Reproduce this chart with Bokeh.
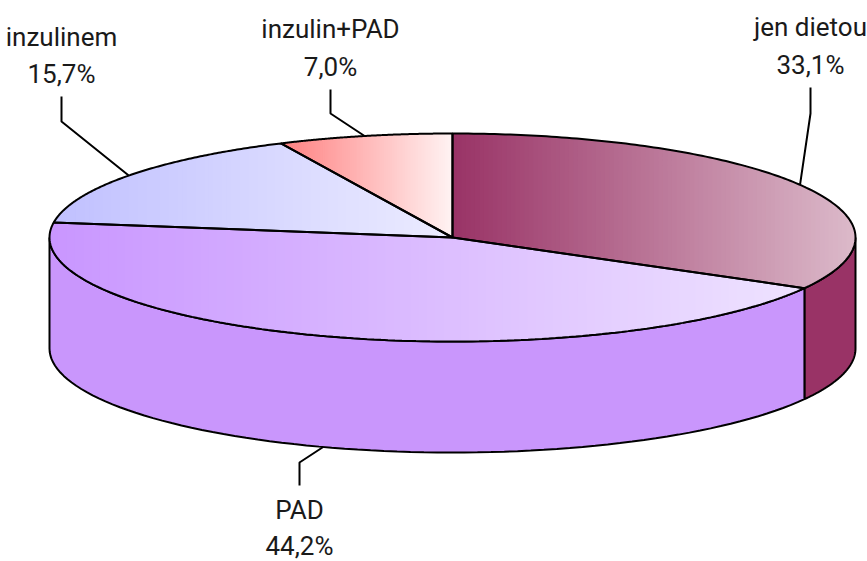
import numpy as np
from bokeh.plotting import figure
from bokeh.models import Range1d, ColumnDataSource
from bokeh.embed import file_html
from bokeh.resources import INLINE
from bokeh.core.properties import value

# ---------------- data ----------------
categories = ["jen dietou", "PAD", "inzulinem", "inzulin+PAD"]
shares = [33.1, 44.2, 15.7, 7.0]
pct_labels = ["33,1%", "44,2%", "15,7%", "7,0%"]

# ---------------- styles ----------------
dark_colors = ["#993366", "#C996FF", "#C0C0FF", "#FF8080"]
light_colors = ["#DCBACA", "#EEE3FF", "#ECECFF", "#FFF3F3"]
side_colors = ["#993366", "#C996FC", "#C0C0FF", "#FF8080"]

# ---------------- layout (screen-pixel data space) ----------------
W, H = 867, 561
CX, CY, RX, RY, DEPTH = 452.0, 237.0, 403.0, 104.0, 111.0
label_x = [810, 299, 61, 330]
label_y1 = [26, 509, 36, 28]
label_y2 = [64, 545, 73, 66]
elbow_y = [113, 462, 121, 113]
end_y = [87, 485, 96, 89]
FONT = "Roboto"
FSIZE = "26px"
LW = 2.0


def pt(t_deg, dy=0.0):
    t = np.radians(t_deg)
    return CX + RX * np.cos(t), CY - RY * np.sin(t) + dy


def hex2rgb(h):
    h = h.lstrip("#")
    return np.array([int(h[i:i + 2], 16) for i in (0, 2, 4)], dtype=float)


def lerp_color(c1, c2, f):
    a, b = hex2rgb(c1), hex2rgb(c2)
    c = a + (b - a) * f
    return "#%02x%02x%02x" % tuple(int(round(v)) for v in c)


def clip_left(xs, ys, x0):
    out_x, out_y = [], []
    n = len(xs)
    for i in range(n):
        xa, ya = xs[i], ys[i]
        xb, yb = xs[(i + 1) % n], ys[(i + 1) % n]
        ina, inb = xa >= x0, xb >= x0
        if ina:
            out_x.append(xa)
            out_y.append(ya)
        if ina != inb:
            t = (x0 - xa) / (xb - xa)
            out_x.append(x0)
            out_y.append(ya + t * (yb - ya))
    return out_x, out_y


p = figure(width=W, height=H, output_backend="svg", toolbar_location=None,
           x_range=Range1d(0, W), y_range=Range1d(H, 0),
           min_border=0)
p.axis.visible = False
p.grid.visible = False
p.outline_line_color = None
p.background_fill_color = "white"

# angles
total = sum(shares)
starts, ends = [], []
cum = 0.0
for s in shares:
    a0 = 90 - 360 * cum / total
    cum += s
    a1 = 90 - 360 * cum / total
    starts.append(a0)
    ends.append(a1)

# ---- side faces (front half only) ----
side_xs, side_ys, side_cols = [], [], []
for i in range(len(shares)):
    lo, hi = ends[i], starts[i]
    for k in (-1, 0, 1):
        a, b = max(lo, -180 + 360 * k), min(hi, 360 * k)
        if b > a:
            ts = np.linspace(a, b, 80)
            tx, ty = pt(ts)
            bx, by = pt(ts[::-1], DEPTH)
            side_xs.append(list(tx) + list(bx))
            side_ys.append(list(ty) + list(by))
            side_cols.append(side_colors[i])
p.patches(xs="xs", ys="ys", fill_color="c", line_color="black", line_width=LW,
          source=ColumnDataSource(dict(xs=side_xs, ys=side_ys, c=side_cols)))

# ---- top faces with horizontal gradient ----
top_polys = []
g_xs, g_ys, g_cols = [], [], []
NSTRIP = 90
for i in range(len(shares)):
    ts = np.linspace(ends[i], starts[i], 160)
    ax, ay = pt(ts)
    xs = [CX] + list(ax)
    ys = [CY] + list(ay)
    top_polys.append((xs, ys))
    xmin, xmax = min(xs), max(xs)
    step = (xmax - xmin) / NSTRIP
    for k in range(NSTRIP):
        x0 = xmin + k * step
        cx_, cy_ = clip_left(xs, ys, x0)
        if len(cx_) < 3:
            continue
        f = (k + 0.5) / NSTRIP
        g_xs.append(cx_)
        g_ys.append(cy_)
        g_cols.append(lerp_color(dark_colors[i], light_colors[i], f))
p.patches(xs="xs", ys="ys", fill_color="c", line_color=None,
          source=ColumnDataSource(dict(xs=g_xs, ys=g_ys, c=g_cols)))

# outlines of top faces
p.patches(xs=[tp[0] for tp in top_polys], ys=[tp[1] for tp in top_polys],
          fill_alpha=0, line_color="black", line_width=LW)

# ---- leader lines ----
l_xs, l_ys = [], []
for i in range(len(shares)):
    mid = (starts[i] + ends[i]) / 2
    mx, my = pt(mid)
    if np.sin(np.radians(mid)) < 0:
        my += DEPTH
    l_xs.append([mx, label_x[i], label_x[i]])
    l_ys.append([my, elbow_y[i], end_y[i]])
p.multi_line(xs=l_xs, ys=l_ys, line_color="black", line_width=LW)

# ---- labels ----
p.text(x=label_x, y=label_y1, text=categories, text_align="center",
       text_baseline="alphabetic", text_font=value(FONT), text_font_size=FSIZE,
       text_color="#1a1a1a")
p.text(x=label_x, y=label_y2, text=pct_labels, text_align="center",
       text_baseline="alphabetic", text_font=value(FONT), text_font_size=FSIZE,
       text_color="#1a1a1a")

open("out.html", "w").write(file_html(p, INLINE))
